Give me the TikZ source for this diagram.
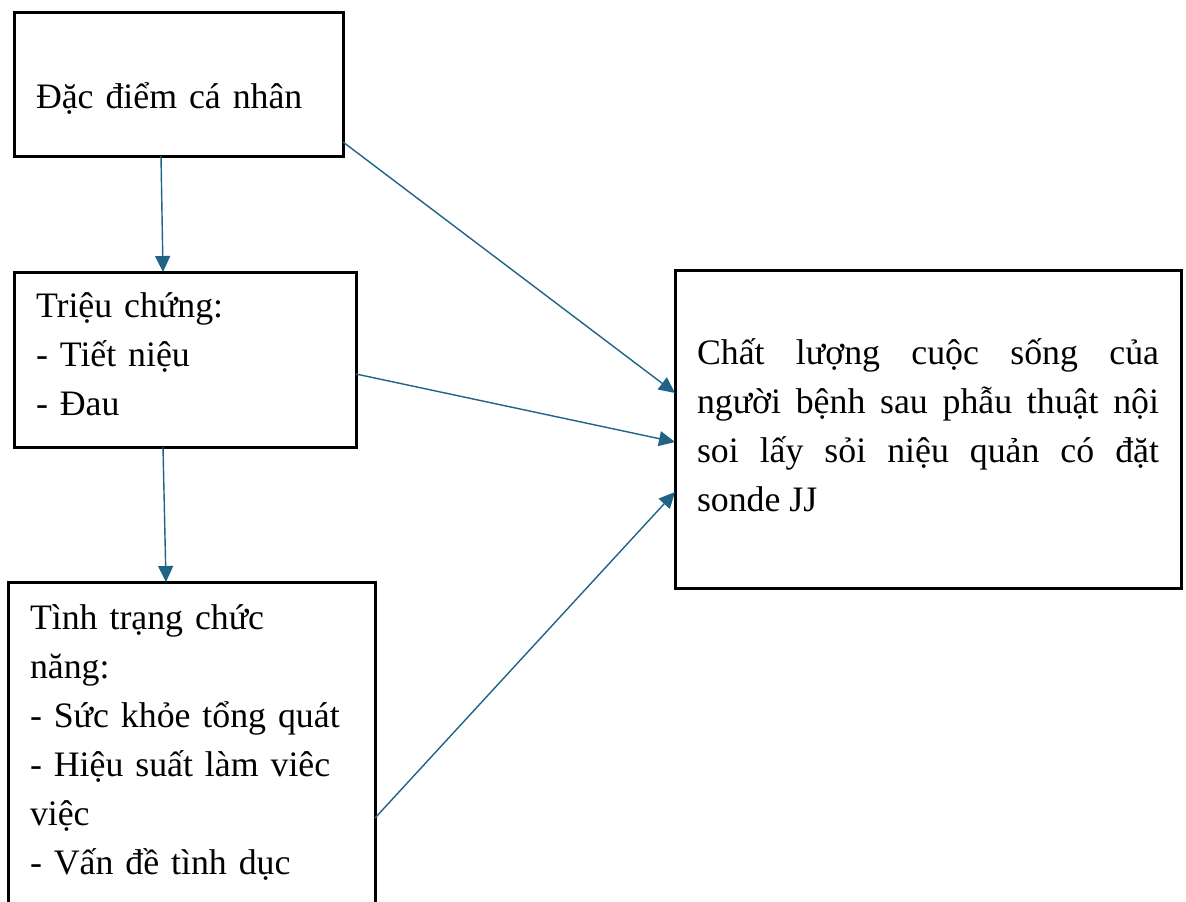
\documentclass[tikz,border=0pt]{standalone}
\usepackage{fontspec}
\setmainfont{Liberation Serif}
\usetikzlibrary{arrows.meta}
\definecolor{linkblue}{RGB}{31,99,134}

\begin{document}
\begin{tikzpicture}[
  x=0.5pt, y=-0.5pt,
  % Node Styles
  pbox/.style={rectangle, draw, line width=1.5pt, outer sep=0pt, inner xsep=11pt, inner ysep=0pt, anchor=north west, align=left},
  % Arrow Styles
  linkarrow/.style={-{Triangle[length=8pt,width=7.5pt]}, color=linkblue, line width=0.7pt},
]
\tikzset{font=\fontsize{17.9}{24.5}\selectfont}

% Model: factors -> quality of life

\useasboundingbox (0,0) rectangle (1186,901);
\clip (0,0) rectangle (1186,901);

\node[pbox, text width=142.5pt, text height=48pt, text depth=24pt] (DAC_DIEM) at (14,12) {Đặc điểm cá nhân};
\node[pbox, text width=149pt, text height=22.5pt, text depth=65pt] (TRIEU_CHUNG) at (14,272) {Triệu chứng:\\- Tiết niệu\\- Đau};
\node[pbox, text width=161.5pt, text height=23.5pt, text depth=165.5pt] (TINH_TRANG) at (8,582) {Tình trạng chức\\năng:\\- Sức khỏe tổng quát\\- Hiệu suất làm viêc\\việc\\- Vấn đề tình dục};
\node[pbox, align=justify, text width=231pt, text height=47pt, text depth=112pt] (CHAT_LUONG) at (675,270) {Chất lượng cuộc sống của\linebreak người bệnh sau phẫu thuật nội\linebreak soi lấy sỏi niệu quản có đặt\linebreak sonde JJ};

\draw[linkarrow] ([xshift=-8.75pt]DAC_DIEM.south) -- ([xshift=-11pt]TRIEU_CHUNG.north);
\draw[linkarrow] ([xshift=-11pt]TRIEU_CHUNG.south) -- ([xshift=-12.75pt]TINH_TRANG.north);
\draw[linkarrow] ([yshift=-29pt]DAC_DIEM.east) -- ([yshift=18pt]CHAT_LUONG.west);
\draw[linkarrow] ([yshift=-7.25pt]TRIEU_CHUNG.east) -- ([yshift=-6.5pt]CHAT_LUONG.west);
\draw[linkarrow] ([yshift=-23.5pt]TINH_TRANG.east) -- ([yshift=-31.5pt]CHAT_LUONG.west);

\end{tikzpicture}
\end{document}
